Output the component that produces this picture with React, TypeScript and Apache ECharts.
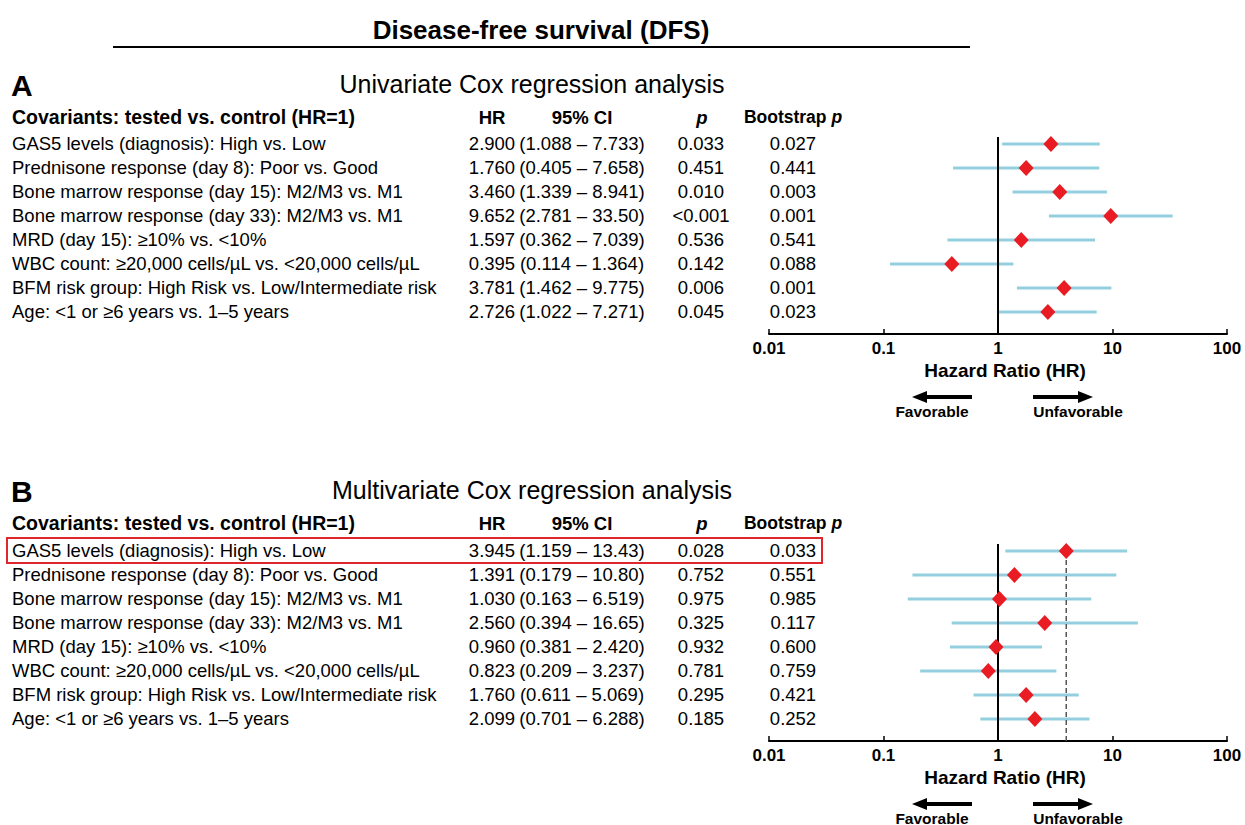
import React, { useEffect, useRef } from "react";
import * as echarts from "echarts";

const FONT = "'Liberation Sans', Arial, Helvetica, sans-serif";

const covariates = [
  "GAS5 levels (diagnosis): High vs. Low",
  "Prednisone response (day 8): Poor vs. Good",
  "Bone marrow response (day 15): M2/M3 vs. M1",
  "Bone marrow response (day 33): M2/M3 vs. M1",
  "MRD (day 15): ≥10% vs. <10%",
  "WBC count: ≥20,000 cells/µL vs. <20,000 cells/µL",
  "BFM risk group: High Risk vs. Low/Intermediate risk",
  "Age: <1 or ≥6 years vs. 1–5 years",
];

const uniHR = [2.9, 1.76, 3.46, 9.652, 1.597, 0.395, 3.781, 2.726];
const uniLo = [1.088, 0.405, 1.339, 2.781, 0.362, 0.114, 1.462, 1.022];
const uniHi = [7.733, 7.658, 8.941, 33.5, 7.039, 1.364, 9.775, 7.271];
const uniP = ["0.033", "0.451", "0.010", "<0.001", "0.536", "0.142", "0.006", "0.045"];
const uniBoot = ["0.027", "0.441", "0.003", "0.001", "0.541", "0.088", "0.001", "0.023"];

const multiHR = [3.945, 1.391, 1.03, 2.56, 0.96, 0.823, 1.76, 2.099];
const multiLo = [1.159, 0.179, 0.163, 0.394, 0.381, 0.209, 0.611, 0.701];
const multiHi = [13.43, 10.8, 6.519, 16.65, 2.42, 3.237, 5.069, 6.288];
const multiP = ["0.028", "0.752", "0.975", "0.325", "0.932", "0.781", "0.295", "0.185"];
const multiBoot = ["0.033", "0.551", "0.985", "0.117", "0.600", "0.759", "0.421", "0.252"];

const xTicks = [0.01, 0.1, 1, 10, 100];
const xTickLabels = ["0.01", "0.1", "1", "10", "100"];

const BLUE = "#93cfdf";
const RED = "#e81c22";
const BOX_RED = "#e0262d";

const ROW_FS = 18.5;
const COL = { label: 12, hr: 492, ci: 582, p: 701, boot: 793 };

function fmt(v: number) {
  return v >= 10 ? v.toFixed(2) : v.toFixed(3);
}

function txt(x: number, y: number, text: string, o: any = {}) {
  const align = o.align || "left";
  return {
    type: "text",
    x,
    y,
    z: 10,
    silent: true,
    style: {
      text,
      fill: "#000",
      fontFamily: FONT,
      fontSize: o.size || ROW_FS,
      fontWeight: o.weight || "normal",
      fontStyle: o.style || "normal",
      align,
      verticalAlign: "middle",
      textAlign: align,
      textVerticalAlign: "middle",
      rich: o.rich,
    },
  };
}

function panelSeries(
  idx: number,
  hr: number[],
  lo: number[],
  hi: number[],
  p: string[],
  boot: string[],
  refs: number[][]
) {
  const rows = covariates.map((_, i) => i);
  return [
    {
      type: "custom",
      xAxisIndex: idx,
      yAxisIndex: idx,
      z: 2,
      silent: true,
      clip: false,
      data: rows.map((i) => [lo[i], hi[i], i]),
      encode: { x: [0, 1], y: 2 },
      renderItem: (_params: any, api: any) => {
        const a = api.coord([api.value(0), api.value(2)]);
        const b = api.coord([api.value(1), api.value(2)]);
        return {
          type: "line",
          shape: { x1: a[0], y1: a[1], x2: b[0], y2: b[1] },
          style: { stroke: BLUE, lineWidth: 3 },
        };
      },
    },
    {
      type: "custom",
      xAxisIndex: idx,
      yAxisIndex: idx,
      z: 3,
      silent: true,
      clip: false,
      data: refs,
      encode: { x: 0, y: 1 },
      renderItem: (params: any, api: any) => {
        const cs = params.coordSys;
        const x = api.coord([api.value(0), 0])[0];
        const dashed = api.value(1) === 1;
        return {
          type: "line",
          shape: { x1: x, y1: cs.y, x2: x, y2: cs.y + cs.height },
          style: dashed
            ? { stroke: "#555", lineWidth: 1.5, lineDash: [5, 3] }
            : { stroke: "#000", lineWidth: 2 },
        };
      },
    },
    {
      type: "scatter",
      xAxisIndex: idx,
      yAxisIndex: idx,
      z: 5,
      silent: true,
      symbol: "diamond",
      symbolSize: [15, 16],
      itemStyle: { color: RED, opacity: 1 },
      data: rows.map((i) => [hr[i], i]),
    },
    {
      type: "custom",
      xAxisIndex: idx,
      yAxisIndex: idx,
      z: 4,
      silent: true,
      clip: false,
      data: rows.map((i) => [1, i]),
      encode: { x: 0, y: 1 },
      renderItem: (_params: any, api: any) => {
        const i = api.value(1);
        const y = api.coord([1, i])[1];
        return {
          type: "group",
          children: [
            txt(COL.label, y, covariates[i]),
            txt(COL.hr, y, fmt(hr[i]), { align: "center" }),
            txt(COL.ci, y, `(${fmt(lo[i])} – ${fmt(hi[i])})`, { align: "center" }),
            txt(COL.p, y, p[i], { align: "center" }),
            txt(COL.boot, y, boot[i], { align: "center" }),
          ],
        };
      },
    },
  ];
}

function xAxis(idx: number) {
  return {
    type: "log",
    logBase: 10,
    gridIndex: idx,
    min: xTicks[0],
    max: xTicks[xTicks.length - 1],
    axisLine: { show: true, onZero: false, lineStyle: { color: "#000", width: 2 } },
    axisTick: { show: true, inside: true, length: 5, lineStyle: { color: "#000", width: 1.5 } },
    minorTick: { show: false },
    splitLine: { show: false },
    axisLabel: {
      show: true,
      color: "#000",
      fontFamily: FONT,
      fontWeight: "bold",
      fontSize: 17,
      margin: 6,
      showMinLabel: true,
      showMaxLabel: true,
      formatter: (v: number) => {
        let best = 0;
        xTicks.forEach((t, k) => {
          if (Math.abs(Math.log10(t) - Math.log10(v)) < Math.abs(Math.log10(xTicks[best]) - Math.log10(v))) best = k;
        });
        return xTickLabels[best];
      },
    },
  };
}

function yAxis(idx: number) {
  return {
    type: "value",
    gridIndex: idx,
    inverse: true,
    min: -0.29,
    max: 7.92,
    show: false,
  };
}

function headerGraphics(y: number) {
  return [
    txt(COL.label, y, "Covariants: tested vs. control (HR=1)", { weight: "bold", size: 19.5 }),
    txt(COL.hr, y, "HR", { weight: "bold", size: 18.5, align: "center" }),
    txt(COL.ci, y, "95% CI", { weight: "bold", size: 18.5, align: "center" }),
    txt(COL.p + 1, y, "p", { weight: "bold", style: "italic", size: 18.5, align: "center" }),
    txt(COL.boot, y, "{b|Bootstrap }{i|p}", {
      align: "center",
      rich: {
        b: { fontFamily: FONT, fontWeight: "bold", fontSize: 17.5, fill: "#000", color: "#000" },
        i: { fontFamily: FONT, fontWeight: "bold", fontStyle: "italic", fontSize: 17.5, fill: "#000", color: "#000" },
      },
    }),
  ];
}

function footerGraphics(axisY: number) {
  const ay = axisY + 63;
  return [
    txt(1005, axisY + 36, "Hazard Ratio (HR)", { weight: "bold", size: 19, align: "center" }),
    {
      type: "line",
      silent: true,
      shape: { x1: 972, y1: ay, x2: 924, y2: ay },
      style: { stroke: "#000", lineWidth: 4 },
    },
    {
      type: "polygon",
      silent: true,
      shape: { points: [[912, ay], [927, ay - 6], [927, ay + 6]] },
      style: { fill: "#000" },
    },
    {
      type: "line",
      silent: true,
      shape: { x1: 1033, y1: ay, x2: 1081, y2: ay },
      style: { stroke: "#000", lineWidth: 4 },
    },
    {
      type: "polygon",
      silent: true,
      shape: { points: [[1093, ay], [1078, ay - 6], [1078, ay + 6]] },
      style: { fill: "#000" },
    },
    txt(932, axisY + 77, "Favorable", { weight: "bold", size: 15.5, align: "center" }),
    txt(1078, axisY + 77, "Unfavorable", { weight: "bold", size: 15.5, align: "center" }),
  ];
}

export default function App() {
  const ref = useRef<HTMLDivElement>(null);
  useEffect(() => {
    document.body.style.margin = "0";
    if (!ref.current) return;
    const chart = echarts.init(ref.current, undefined, { renderer: "svg" });
    const gridA = { left: 769, right: 18, top: 137, height: 197 };
    const gridB = { left: 769, right: 18, top: 544, height: 197 };
    const axisA = gridA.top + gridA.height;
    const axisB = gridB.top + gridB.height;
    const option: any = {
      animation: false,
      backgroundColor: "#fff",
      textStyle: { fontFamily: FONT },
      grid: [gridA, gridB],
      xAxis: [xAxis(0), xAxis(1)],
      yAxis: [yAxis(0), yAxis(1)],
      series: [
        ...panelSeries(0, uniHR, uniLo, uniHi, uniP, uniBoot, [[1, 0]]),
        ...panelSeries(1, multiHR, multiLo, multiHi, multiP, multiBoot, [[1, 0], [multiHR[0], 1]]),
      ],
      graphic: [
        txt(541, 30, "Disease-free survival (DFS)", { weight: "bold", size: 26, align: "center" }),
        {
          type: "line",
          silent: true,
          shape: { x1: 113, y1: 47, x2: 970, y2: 47 },
          style: { stroke: "#000", lineWidth: 2 },
        },
        txt(11, 85, "A", { weight: "bold", size: 30 }),
        txt(532, 84, "Univariate Cox regression analysis", { size: 25, align: "center" }),
        ...headerGraphics(117),
        ...footerGraphics(axisA),
        txt(11, 491, "B", { weight: "bold", size: 30 }),
        txt(532, 490, "Multivariate Cox regression analysis", { size: 25, align: "center" }),
        ...headerGraphics(523),
        {
          type: "rect",
          silent: true,
          z: 20,
          shape: { x: 7, y: 538, width: 815, height: 25 },
          style: { fill: "none", stroke: BOX_RED, lineWidth: 2 },
        },
        ...footerGraphics(axisB),
      ],
    };
    chart.setOption(option);
    return () => chart.dispose();
  }, []);
  return <div ref={ref} style={{ width: 1245, height: 825 }} />;
}
